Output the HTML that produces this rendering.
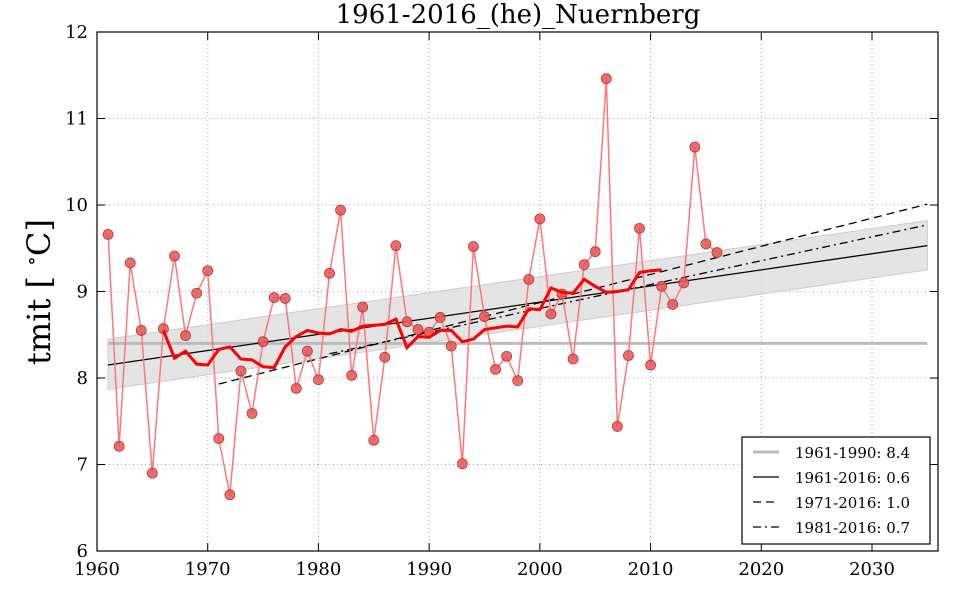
<!DOCTYPE html>
<html><head><meta charset="utf-8"><style>
body{margin:0;background:#fff;width:960px;height:600px;overflow:hidden}
svg text{font-family:"DejaVu Serif","Liberation Serif",serif}
</style></head><body>
<svg id="s" width="960" height="600" xmlns="http://www.w3.org/2000/svg"></svg>
<script>
const X=y=>97+(y-1960)*(775/70), Y=v=>551-(v-6)*86.5;
const d=[9.66,7.21,9.33,8.55,6.90,8.57,9.41,8.49,8.98,9.24,7.30,6.65,8.08,7.59,8.42,8.93,8.92,7.88,8.31,7.98,9.21,9.94,8.03,8.82,7.28,8.24,9.53,8.65,8.56,8.53,8.70,8.37,7.01,9.52,8.71,8.10,8.25,7.97,9.14,9.84,8.74,8.97,8.22,9.31,9.46,11.46,7.44,8.26,9.73,8.15,9.06,8.85,9.10,10.67,9.55,9.45];
const m=[8.55,8.23,8.31,8.16,8.15,8.33,8.36,8.22,8.21,8.13,8.12,8.36,8.48,8.55,8.52,8.51,8.56,8.54,8.60,8.61,8.62,8.68,8.35,8.48,8.47,8.55,8.55,8.42,8.45,8.56,8.58,8.60,8.59,8.80,8.79,9.04,8.99,8.98,9.14,9.06,8.99,9.00,9.02,9.22,9.24,9.25];
let s='';
for(let y=1970;y<=2030;y+=10)s+=`<line x1="${X(y)}" y1="32" x2="${X(y)}" y2="551" stroke="#aaa" stroke-dasharray="1,3"/>`;
for(let v=7;v<=11;v++)s+=`<line x1="97" y1="${Y(v)}" x2="938" y2="${Y(v)}" stroke="#aaa" stroke-dasharray="1,3"/>`;
s+=`<polygon points="${X(1961)},${Y(8.45)} ${X(2035)},${Y(9.82)} ${X(2035)},${Y(9.25)} ${X(1961)},${Y(7.87)}" fill="#ddd" stroke="#ccc" fill-opacity="0.8"/>`;
s+=`<line x1="${X(1961)}" y1="${Y(8.4)}" x2="${X(2035)}" y2="${Y(8.4)}" stroke="#bbb" stroke-width="3"/>`;
s+=`<line x1="${X(1961)}" y1="${Y(8.15)}" x2="${X(2035)}" y2="${Y(9.53)}" stroke="#000" stroke-width="1.3"/>`;
s+=`<line x1="${X(1971)}" y1="${Y(7.93)}" x2="${X(2035)}" y2="${Y(10.01)}" stroke="#000" stroke-width="1.3" stroke-dasharray="8,5"/>`;
s+=`<line x1="${X(1981)}" y1="${Y(8.28)}" x2="${X(2035)}" y2="${Y(9.77)}" stroke="#000" stroke-width="1.3" stroke-dasharray="8,4,2,4"/>`;
s+=`<polyline fill="none" stroke="#f77" stroke-width="1.5" points="${d.map((v,i)=>X(1961+i)+','+Y(v)).join(' ')}"/>`;
d.forEach((v,i)=>s+=`<circle cx="${X(1961+i)}" cy="${Y(v)}" r="5" fill="#e85555" fill-opacity="0.85" stroke="#b33" stroke-width="0.8"/>`);
s+=`<polyline fill="none" stroke="#f00" stroke-width="3" points="${m.map((v,i)=>X(1966+i)+','+Y(v)).join(' ')}"/>`;
s+=`<rect x="97" y="32" width="841" height="519" fill="none" stroke="#000" stroke-width="1.2"/>`;
for(let y=1960;y<=2030;y+=10){s+=`<line x1="${X(y)}" y1="551" x2="${X(y)}" y2="543" stroke="#000"/><line x1="${X(y)}" y1="32" x2="${X(y)}" y2="40" stroke="#000"/><text x="${X(y)}" y="575" font-size="18" text-anchor="middle">${y}</text>`;}
for(let v=6;v<=12;v++){s+=`<line x1="97" y1="${Y(v)}" x2="105" y2="${Y(v)}" stroke="#000"/><line x1="938" y1="${Y(v)}" x2="930" y2="${Y(v)}" stroke="#000"/><text x="88" y="${Y(v)+6}" font-size="18" text-anchor="end">${v}</text>`;}
s+=`<text x="518" y="23" font-size="26" text-anchor="middle">1961-2016_(he)_Nuernberg</text>`;
s+=`<text transform="translate(50,292) rotate(-90)" font-size="32" text-anchor="middle">tmit [ <tspan baseline-shift="super" font-size="20">∘</tspan>C]</text>`;
s+=`<rect x="742" y="437" width="188" height="107" fill="#fff" stroke="#000" stroke-width="1.2"/>`;
const L=[["1961-1990: 8.4","#bbb",3,""],["1961-2016: 0.6","#000",1.3,""],["1971-2016: 1.0","#000",1.3,"8,5"],["1981-2016: 0.7","#000",1.3,"8,4,2,4"]];
L.forEach((l,i)=>{const y=452+i*25;s+=`<line x1="753" y1="${y}" x2="779" y2="${y}" stroke="${l[1]}" stroke-width="${l[2]}" stroke-dasharray="${l[3]}"/><text x="795" y="${y+6}" font-size="15">${l[0]}</text>`;});
document.getElementById('s').innerHTML=s;
</script>
</body></html>
